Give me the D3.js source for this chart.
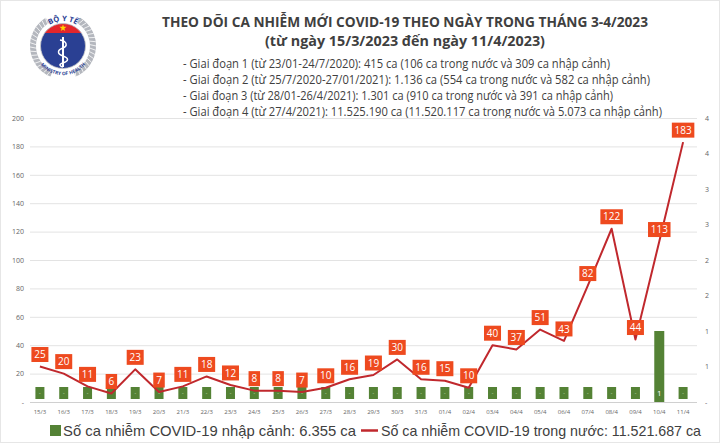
<!DOCTYPE html>
<html>
<head>
<meta charset="utf-8">
<script src="https://cdn.jsdelivr.net/npm/d3@7"></script>
<style>
html,body{margin:0;padding:0;background:#fff;}
svg{display:block;}
</style>
</head>
<body>
<svg id="chart" width="720" height="443"></svg>
<script>
const categories = ["15/3","16/3","17/3","18/3","19/3","20/3","21/3","22/3","23/3","24/3","25/3","26/3","27/3","28/3","29/3","30/3","31/3","01/4","02/4","03/4","04/4","05/4","06/4","07/4","08/4","09/4","10/4","11/4"];
const domesticCases = [25,20,11,6,23,7,11,18,12,8,8,7,10,16,19,30,16,15,10,40,37,51,43,82,122,44,113,183];
const importedCases = [0,0,0,0,0,0,0,0,0,0,0,0,0,0,0,0,0,0,0,0,0,0,0,0,0,0,1,0];
const leftTicks = [0,20,40,60,80,100,120,140,160,180,200];
const rightTicks = [0,0.5,1,1.5,2,2.5,3,3.5,4];
const titleLines = ["THEO DÕI CA NHIỄM MỚI COVID-19 THEO NGÀY TRONG THÁNG 3-4/2023","(từ ngày 15/3/2023 đến ngày 11/4/2023)"];
const infoLines = [
 "- Giai đoạn 1 (từ 23/01-24/7/2020): 415 ca (106 ca trong nước và 309 ca nhập cảnh)",
 "- Giai đoạn 2 (từ 25/7/2020-27/01/2021): 1.136 ca (554 ca trong nước và 582 ca nhập cảnh)",
 "- Giai đoạn 3 (từ 28/01-26/4/2021): 1.301 ca (910 ca trong nước và 391 ca nhập cảnh)",
 "- Giai đoạn 4 (từ 27/4/2021): 11.525.190 ca (11.520.117 ca trong nước và 5.073 ca nhập cảnh)"
];
const legendLabels = ["Số ca nhiễm COVID-19 nhập cảnh: 6.355 ca","Số ca nhiễm COVID-19 trong nước: 11.521.687 ca"];

const svg = d3.select("#chart");
const FONT = "'Open Sans', 'Noto Sans', sans-serif";
const GREEN = "#548235", RED = "#C0282D", LBL = "#EE4A1F";

// frame
svg.append("rect").attr("x",0.5).attr("y",0.5).attr("width",719).attr("height",442).attr("fill","#fff").attr("stroke","#e6e6e6");

// ---- logo ----
const defs = svg.append("defs");
defs.append("clipPath").attr("id","lc").append("circle").attr("r",22.5);
defs.append("path").attr("id","arcTop").attr("d","M-20,-15 A25,25 0 0,1 20,-15");
defs.append("path").attr("id","arcBot").attr("d","M-26,13 A29,29 0 0,0 26,13");
const logo = svg.append("g").attr("transform","translate(63,46)");
const ringArc = d3.arc().innerRadius(27).outerRadius(33);
[[-2.75,-0.55],[0.55,2.75]].forEach(([a0,a1])=>{
  logo.append("path").attr("d",ringArc({startAngle:a0,endAngle:a1})).attr("fill","#b4b7be");
  for(let a=a0+0.06;a<a1;a+=0.13){
    logo.append("line").attr("x1",27*Math.sin(a)).attr("y1",-27*Math.cos(a))
      .attr("x2",33*Math.sin(a+0.05)).attr("y2",-33*Math.cos(a+0.05))
      .attr("stroke","#fff").attr("stroke-width",0.8);
  }
});
const inner = logo.append("g").attr("clip-path","url(#lc)");
inner.append("rect").attr("x",-25).attr("y",-25).attr("width",50).attr("height",50).attr("fill","#2a4093");
inner.append("rect").attr("x",-25).attr("y",-25).attr("width",50).attr("height",12).attr("fill","#e3262b");
logo.append("circle").attr("r",22.5).attr("fill","none").attr("stroke","#c8c8c8").attr("stroke-width",0.8);
logo.append("path").attr("d",d3.symbol(d3.symbolStar,16)()).attr("transform","translate(0,-18)").attr("fill","#ffd700");
logo.append("line").attr("x1",0).attr("x2",0).attr("y1",-9).attr("y2",21).attr("stroke","#fff").attr("stroke-width",2);
logo.append("path").attr("d","M-3,-6 C4,-5 5,0 0,2 C-6,4 -6,8 0,10 C6,12 6,15 0,17 C-4,18 -4,20 0,21").attr("fill","none").attr("stroke","#fff").attr("stroke-width",1.5);
logo.append("text").attr("font-family",FONT).attr("font-size",7.5).attr("font-weight",700).attr("fill","#2a4093")
  .append("textPath").attr("href","#arcTop").attr("startOffset","50%").attr("text-anchor","middle").text("BỘ Y TẾ");
logo.append("text").attr("font-family",FONT).attr("font-size",4.8).attr("font-weight",700).attr("fill","#2a4093")
  .append("textPath").attr("href","#arcBot").attr("startOffset","50%").attr("text-anchor","middle").text("MINISTRY OF HEALTH");

// ---- titles ----
svg.append("text").attr("x",405).attr("y",27).attr("text-anchor","middle")
  .attr("font-family",FONT).attr("font-weight",700).attr("font-size",15).attr("fill","#3f3f3f")
  .attr("textLength",486).attr("lengthAdjust","spacingAndGlyphs").text(titleLines[0]);
svg.append("text").attr("x",405).attr("y",46).attr("text-anchor","middle")
  .attr("font-family",FONT).attr("font-weight",700).attr("font-size",15).attr("fill","#3f3f3f")
  .attr("textLength",280).attr("lengthAdjust","spacingAndGlyphs").text(titleLines[1]);
const infoEnds = [610,650,613,662];
infoLines.forEach((t,i)=>{
  svg.append("text").attr("x",183).attr("y",68+i*16)
    .attr("font-family",FONT).attr("font-size",12).attr("fill","#404040")
    .attr("textLength",infoEnds[i]-183).attr("lengthAdjust","spacingAndGlyphs").text(t);
});

// ---- scales ----
const x = d3.scaleBand().domain(categories).range([28,695]);
const yL = d3.scaleLinear().domain([0,200]).range([402,118]);
const yR = d3.scaleLinear().domain([0,4]).range([402,118]);

// gridlines
svg.append("g").selectAll("line").data(leftTicks).join("line")
  .attr("x1",30).attr("x2",697).attr("y1",d=>yL(d)+0.5).attr("y2",d=>yL(d)+0.5)
  .attr("stroke",d=>d===0?"#d0d0d0":"#e3e3e3").attr("stroke-width",1);

// left axis
const axL = svg.append("g").attr("transform","translate(26,0)")
  .call(d3.axisLeft(yL).tickValues(leftTicks).tickSize(0).tickPadding(2).tickFormat(d=>d===0?"-":d));
axL.select(".domain").remove();
axL.selectAll("text").attr("font-family",FONT).attr("font-size",7).attr("fill","#666");

// right axis
const axR = svg.append("g").attr("transform","translate(700,0)")
  .call(d3.axisRight(yR).tickValues(rightTicks).tickSize(0).tickPadding(5).tickFormat(d=>d===0?"-":Math.round(d)));
axR.select(".domain").remove();
axR.selectAll("text").attr("font-family",FONT).attr("font-size",7).attr("fill","#666");

// bottom axis
const axB = svg.append("g").attr("transform","translate(0,404)")
  .call(d3.axisBottom(x).tickSize(0).tickPadding(6));
axB.select(".domain").remove();
axB.selectAll("text").attr("font-family",FONT).attr("font-size",6).attr("fill","#666");

// bars
const bw = 10;
svg.append("g").selectAll("rect").data(importedCases.map((v,i)=>({c:categories[i],v})).filter(d=>d.v>0)).join("rect")
  .attr("x",d=>x(d.c)+x.bandwidth()/2-bw/2).attr("width",bw)
  .attr("y",d=>yR(d.v)).attr("height",d=>yR(0)-yR(d.v)).attr("fill",GREEN);
// bar labels
const bl = svg.append("g").selectAll("g").data(importedCases.map((v,i)=>({c:categories[i],v}))).join("g")
  .attr("transform",d=>`translate(${x(d.c)+x.bandwidth()/2},${yR(0)-9})`);
bl.filter(d=>d.v===0).append("rect").attr("x",-4.5).attr("y",-6).attr("width",9).attr("height",12).attr("fill",GREEN);
bl.append("text").attr("text-anchor","middle").attr("dy","0.35em")
  .attr("font-family",FONT).attr("font-size",d=>d.v===0?5:8).attr("fill",d=>d.v===0?"#cfe0c3":"#fff")
  .text(d=>d.v===0?"-":d.v);

// line
const pts = domesticCases.map((v,i)=>({c:categories[i],v}));
svg.append("path").datum(pts)
  .attr("d",d3.line().x(d=>x(d.c)+x.bandwidth()/2).y(d=>yL(d.v)))
  .attr("fill","none").attr("stroke",RED).attr("stroke-width",2).attr("stroke-linejoin","round");

// line labels
const ll = svg.append("g").selectAll("g").data(pts).join("g")
  .attr("transform",d=>`translate(${x(d.c)+x.bandwidth()/2},${yL(d.v)-12})`);
ll.append("rect")
  .attr("x",d=>-(String(d.v).length*5.5+6)/2).attr("width",d=>String(d.v).length*5.5+6)
  .attr("y",-7.5).attr("height",15).attr("fill",LBL);
ll.append("text").attr("text-anchor","middle").attr("dy","0.36em")
  .attr("font-family",FONT).attr("font-size",10).attr("fill","#fff").text(d=>d.v);

// legend
const lg = svg.append("g");
lg.append("rect").attr("x",50).attr("y",425).attr("width",11).attr("height",11).attr("fill",GREEN);
lg.append("text").attr("x",63).attr("y",436).attr("font-family","'Liberation Sans', Arial, sans-serif").attr("font-size",15).attr("fill","#404040")
  .attr("textLength",293).attr("lengthAdjust","spacingAndGlyphs").text(legendLabels[0]);
lg.append("line").attr("x1",361).attr("x2",378).attr("y1",430.5).attr("y2",430.5).attr("stroke",RED).attr("stroke-width",2.5);
lg.append("text").attr("x",381).attr("y",436).attr("font-family","'Liberation Sans', Arial, sans-serif").attr("font-size",15).attr("fill","#404040")
  .attr("textLength",320).attr("lengthAdjust","spacingAndGlyphs").text(legendLabels[1]);
</script>
</body>
</html>
